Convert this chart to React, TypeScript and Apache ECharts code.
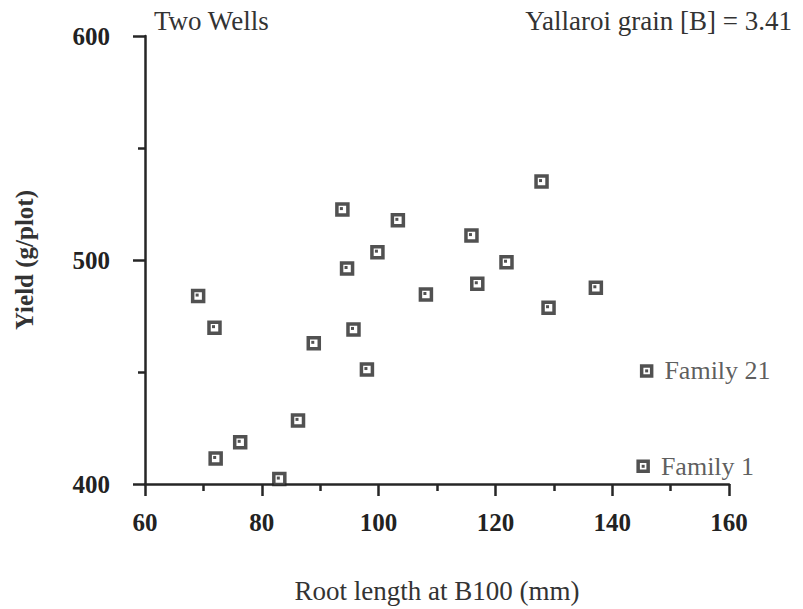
import React, { useEffect, useRef } from "react";
import * as echarts from "echarts";

const rootLength = [69.1, 71.9, 72.1, 76.3, 83.0, 86.2, 88.9, 93.8, 94.6, 95.7, 98.0, 99.8, 103.3, 108.1, 115.9, 116.9, 121.9, 127.9, 129.1, 137.2];
const yieldValues = [483.9, 469.8, 411.4, 418.6, 402.2, 428.4, 462.8, 522.5, 496.2, 469.0, 451.1, 503.5, 517.7, 484.6, 510.9, 489.4, 499.0, 535.0, 478.7, 487.6];

const familyNames = ["Family 21", "Family 1"];
const familyX = [145.9, 145.3];
const familyY = [450.5, 407.9];

const xTicks = { min: 60, max: 160, interval: 20 };
const yTicks = { min: 400, max: 600, interval: 100 };

const titleLeft = "Two Wells";
const titleRight = "Yallaroi grain [B] = 3.41";
const xName = "Root length at B100 (mm)";
const yName = "Yield (g/plot)";

const SERIF = "'Liberation Serif', 'Times New Roman', serif";
const DARK = "#262626";

export default function App() {
  const ref = useRef<HTMLDivElement>(null);
  useEffect(() => {
    if (!ref.current) return;
    const chart = echarts.init(ref.current, null, { renderer: "svg" });
    const pts = rootLength.map((x, i) => [x, yieldValues[i]]);
    const fam = familyX.map((x, i) => ({ value: [x, familyY[i]], name: familyNames[i] }));
    chart.setOption({
      animation: false,
      backgroundColor: "#fff",
      title: [
        { text: titleLeft, left: 154, top: 7, padding: 0, textStyle: { fontFamily: SERIF, fontWeight: "normal", fontSize: 27, color: "#333" } },
        { text: titleRight, right: 11, top: 7, padding: 0, textStyle: { fontFamily: SERIF, fontWeight: "normal", fontSize: 27, color: "#333" } },
      ],
      grid: { left: 145, top: 36, width: 584, height: 449 },
      xAxis: {
        type: "value",
        min: xTicks.min,
        max: xTicks.max,
        interval: xTicks.interval,
        name: xName,
        nameLocation: "middle",
        nameGap: 93,
        nameTextStyle: { fontFamily: SERIF, fontSize: 27, color: "#333" },
        axisLine: { show: true, lineStyle: { color: DARK, width: 2.5 } },
        axisTick: { show: true, length: 12, lineStyle: { color: DARK, width: 2.5 } },
        minorTick: { show: true, splitNumber: 2, length: 7, lineStyle: { color: DARK, width: 2.5 } },
        splitLine: { show: false },
        axisLabel: { margin: 26, fontFamily: SERIF, fontWeight: "bold", fontSize: 25, color: "#222" },
      },
      yAxis: {
        type: "value",
        min: yTicks.min,
        max: yTicks.max,
        interval: yTicks.interval,
        name: yName,
        nameLocation: "middle",
        nameGap: 108,
        nameRotate: 90,
        nameTextStyle: { fontFamily: SERIF, fontWeight: "bold", fontSize: 25, color: "#333" },
        axisLine: { show: true, lineStyle: { color: DARK, width: 2.5 } },
        axisTick: { show: true, length: 12, lineStyle: { color: DARK, width: 2.5 } },
        minorTick: { show: true, splitNumber: 2, length: 7, lineStyle: { color: DARK, width: 2.5 } },
        splitLine: { show: false },
        axisLabel: { margin: 35, fontFamily: SERIF, fontWeight: "bold", fontSize: 25, color: "#222", padding: [16, 0, 0, 0] },
      },
      series: [
        {
          type: "scatter",
          data: pts,
          symbol: "rect",
          symbolSize: 11,
          itemStyle: { color: "#fff", borderColor: DARK, borderWidth: 3.5 },
          z: 3,
        },
        {
          type: "scatter",
          data: pts,
          symbol: "rect",
          symbolSize: 3,
          symbolOffset: [-1, -1],
          itemStyle: { color: DARK },
          z: 4,
        },
        {
          type: "scatter",
          data: fam,
          symbol: "rect",
          symbolSize: 10,
          itemStyle: { color: "#fff", borderColor: DARK, borderWidth: 3.5 },
          z: 3,
          label: {
            show: true,
            position: "right",
            distance: 11,
            formatter: (p: any) => p.name,
            fontFamily: SERIF,
            fontSize: 26,
            color: "#333",
          },
        },
        {
          type: "scatter",
          data: fam,
          symbol: "rect",
          symbolSize: 3,
          itemStyle: { color: DARK },
          z: 4,
        },
      ],
    });
    return () => chart.dispose();
  }, []);
  return (
    <div
      ref={ref}
      style={{ position: "fixed", left: 0, top: 0, width: 803, height: 609 }}
    />
  );
}
